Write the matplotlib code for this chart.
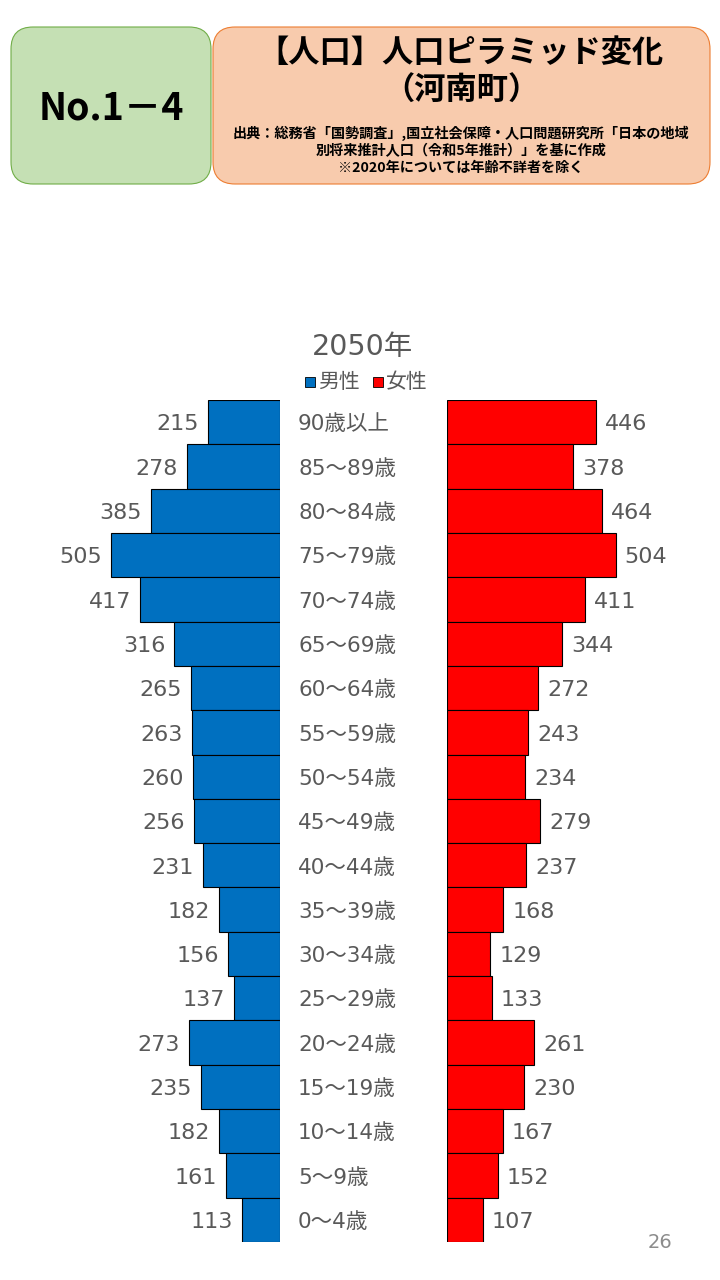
import matplotlib
matplotlib.use("Agg")
import matplotlib.pyplot as plt
from matplotlib.patches import FancyBboxPatch
from matplotlib import transforms

plt.rcParams['font.family'] = ['Noto Sans CJK JP', 'DejaVu Sans']
NUMFONT = ['DejaVu Sans', 'Noto Sans CJK JP']

ages = ["90歳以上", "85～89歳", "80～84歳", "75～79歳", "70～74歳", "65～69歳", "60～64歳",
        "55～59歳", "50～54歳", "45～49歳", "40～44歳", "35～39歳", "30～34歳", "25～29歳",
        "20～24歳", "15～19歳", "10～14歳", "5～9歳", "0～4歳"]
male = [215, 278, 385, 505, 417, 316, 265, 263, 260, 256, 231, 182, 156, 137, 273, 235, 182, 161, 113]
female = [446, 378, 464, 504, 411, 344, 272, 243, 234, 279, 237, 168, 129, 133, 261, 230, 167, 152, 107]
year_title = "2050年"
legend_labels = ["男性", "女性"]

W, H = 720, 1280
fig = plt.figure(figsize=(7.2, 12.8), dpi=100)

def fx(px):
    return px / W

def fy(py):
    return 1 - py / H

# ---- header boxes ----
hax = fig.add_axes([0, 0, 1, 1])
hax.set_xlim(0, W)
hax.set_ylim(H, 0)
hax.axis('off')
green = FancyBboxPatch((11, 27), 200, 157, boxstyle="round,pad=0,rounding_size=22",
                       facecolor="#c5e0b4", edgecolor="#70ad47", linewidth=0.8)
orange = FancyBboxPatch((213, 27), 497, 157, boxstyle="round,pad=0,rounding_size=22",
                        facecolor="#f8cbad", edgecolor="#ed7d31", linewidth=0.8)
hax.add_patch(green)
hax.add_patch(orange)
hax.text(111, 108, "No.1－4", ha='center', va='center', fontsize=27, fontweight='bold', color='black')
hax.text(461, 53, "【人口】人口ピラミッド変化", ha='center', va='center', fontsize=22.5, fontweight='bold', color='black')
hax.text(461, 91, "（河南町）", ha='center', va='center', fontsize=22.5, fontweight='bold', color='black')
hax.text(461, 133, "出典：総務省「国勢調査」,国立社会保障・人口問題研究所「日本の地域",
         ha='center', va='center', fontsize=10.2, fontweight='bold', color='black')
hax.text(461, 151, "別将来推計人口（令和5年推計）」を基に作成",
         ha='center', va='center', fontsize=10.2, fontweight='bold', color='black')
hax.text(461, 168, "※2020年については年齢不詳者を除く",
         ha='center', va='center', fontsize=10.2, fontweight='bold', color='black')

# chart title & legend
hax.text(362, 347, year_title, ha='center', va='center', fontsize=20.5, color='#595959', family=NUMFONT)
hax.add_patch(plt.Rectangle((305, 377), 10, 10, facecolor='#0070c0', edgecolor='black', linewidth=0.6))
hax.text(318, 382, legend_labels[0], ha='left', va='center', fontsize=15, color='#595959')
hax.add_patch(plt.Rectangle((373, 377), 10, 10, facecolor='#ff0000', edgecolor='black', linewidth=0.6))
hax.text(386, 382, legend_labels[1], ha='left', va='center', fontsize=15, color='#595959')
hax.text(660, 1242, "26", ha='center', va='center', fontsize=14, color='#8c8c8c', family=NUMFONT)

# ---- pyramid ----
scale = 169 / 505.0  # px per person
top_px, bot_px = 400, 1242
n = len(ages)
ypos = list(range(n))

axL = fig.add_axes([0, fy(bot_px), fx(280), (bot_px - top_px) / H])
axL.set_xlim(280 / scale, 0)
axL.set_ylim(n - 0.5, -0.5)
axL.barh(ypos, male, height=1.0, color='#0070c0', edgecolor='black', linewidth=0.8)
for y, v in zip(ypos, male):
    axL.text(v + 9 / scale, y + 0.05, str(v), ha='right', va='center', fontsize=16,
             color='#595959', family=NUMFONT)
axL.axis('off')

axR = fig.add_axes([fx(447), fy(bot_px), fx(W - 447), (bot_px - top_px) / H])
axR.set_xlim(0, (W - 447) / scale)
axR.set_ylim(n - 0.5, -0.5)
axR.barh(ypos, female, height=1.0, color='#ff0000', edgecolor='black', linewidth=0.8)
for y, v in zip(ypos, female):
    axR.text(v + 9 / scale, y + 0.05, str(v), ha='left', va='center', fontsize=16,
             color='#595959', family=NUMFONT)
axR.axis('off')

tr = transforms.blended_transform_factory(fig.transFigure, axL.transData)
for y, a in zip(ypos, ages):
    axL.text(fx(298), y + 0.05, a, transform=tr, ha='left', va='center', fontsize=15.5,
             color='#595959', clip_on=False, family=NUMFONT)

fig.savefig("out.png", dpi=100)
